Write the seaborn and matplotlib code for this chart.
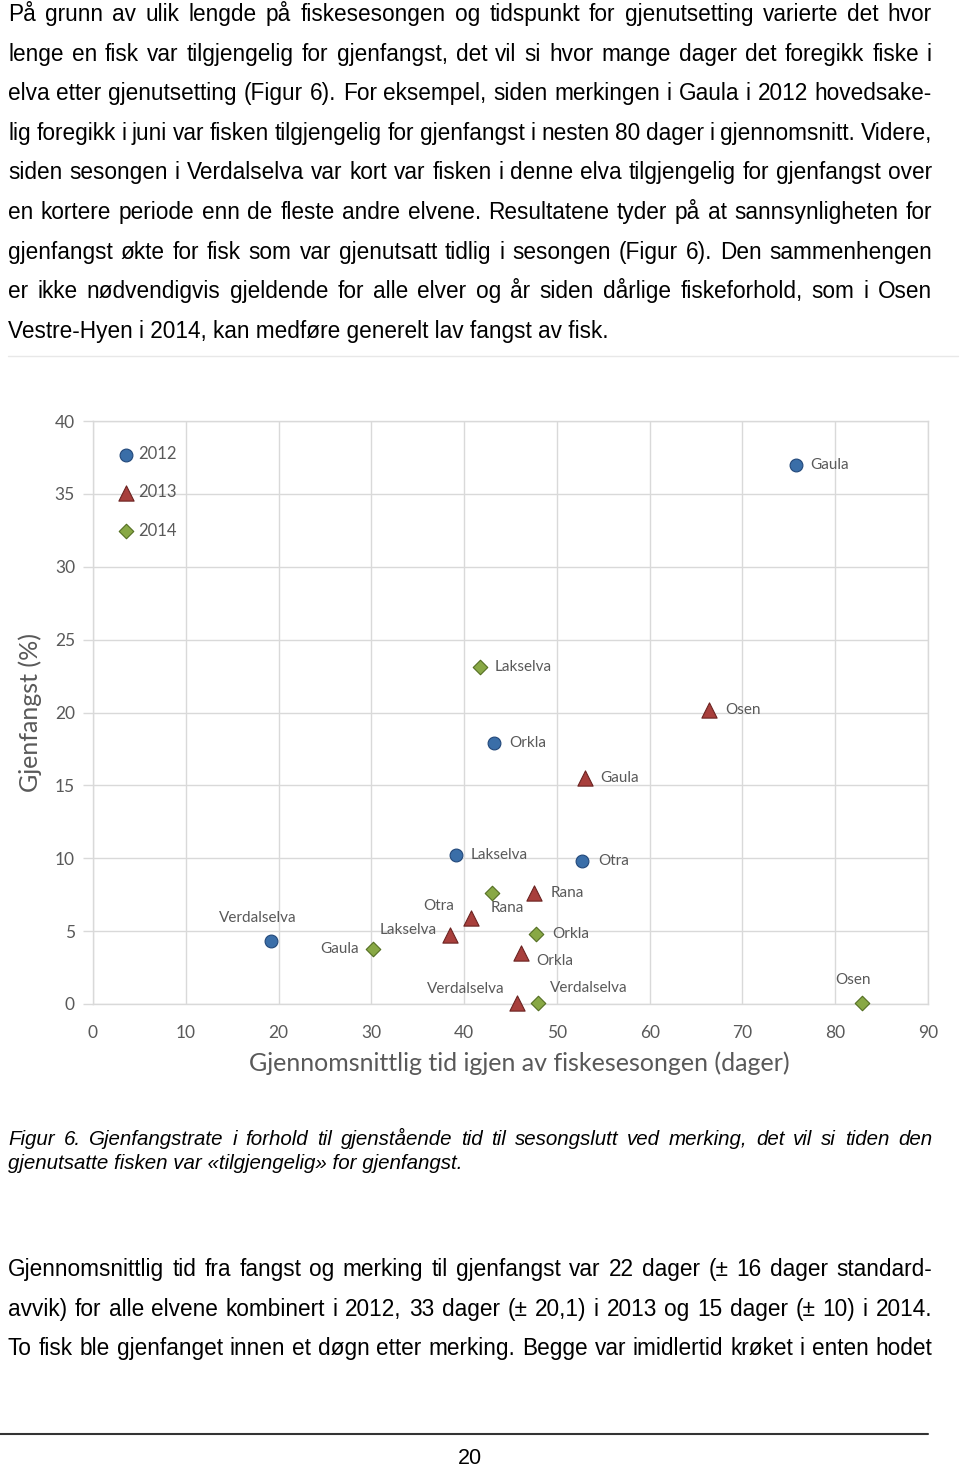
import matplotlib
matplotlib.use("Agg")
import matplotlib.pyplot as plt
from matplotlib.lines import Line2D
import pandas as pd
import seaborn as sns

# chart data
rivers_2012 = ["Verdalselva", "Lakselva", "Orkla", "Otra", "Gaula"]
days_2012 = [19.2, 39.1, 43.2, 52.7, 75.8]
rate_2012 = [4.3, 10.2, 17.9, 9.8, 37.0]

rivers_2013 = ["Lakselva", "Otra", "Rana", "Orkla", "Verdalselva", "Gaula", "Osen"]
days_2013 = [38.5, 40.7, 47.5, 46.1, 45.7, 53.0, 66.4]
rate_2013 = [4.7, 5.9, 7.6, 3.5, 0.1, 15.5, 20.2]

rivers_2014 = ["Gaula", "Lakselva", "Rana", "Orkla", "Verdalselva", "Osen"]
days_2014 = [30.2, 41.7, 43.0, 47.7, 48.0, 82.9]
rate_2014 = [3.8, 23.1, 7.6, 4.8, 0.1, 0.1]

years = ["2012", "2013", "2014"]
x_ticks = list(range(0, 91, 10))
y_ticks = list(range(0, 41, 5))

x_label = "Gjennomsnittlig tid igjen av fiskesesongen (dager)"
y_label = "Gjenfangst (%)"

top_text = [
    "På grunn av ulik lengde på fiskesesongen og tidspunkt for gjenutsetting varierte det hvor",
    "lenge en fisk var tilgjengelig for gjenfangst, det vil si hvor mange dager det foregikk fiske i",
    "elva etter gjenutsetting (Figur 6). For eksempel, siden merkingen i Gaula i 2012 hovedsake-",
    "lig foregikk i juni var fisken tilgjengelig for gjenfangst i nesten 80 dager i gjennomsnitt. Videre,",
    "siden sesongen i Verdalselva var kort var fisken i denne elva tilgjengelig for gjenfangst over",
    "en kortere periode enn de fleste andre elvene. Resultatene tyder på at sannsynligheten for",
    "gjenfangst økte for fisk som var gjenutsatt tidlig i sesongen (Figur 6). Den sammenhengen",
    "er ikke nødvendigvis gjeldende for alle elver og år siden dårlige fiskeforhold, som i Osen",
    "Vestre-Hyen i 2014, kan medføre generelt lav fangst av fisk.",
]
caption_text = [
    "Figur 6. Gjenfangstrate i forhold til gjenstående tid til sesongslutt ved merking, det vil si tiden den",
    "gjenutsatte fisken var «tilgjengelig» for gjenfangst.",
]
bottom_text = [
    "Gjennomsnittlig tid fra fangst og merking til gjenfangst var 22 dager (± 16 dager standard-",
    "avvik) for alle elvene kombinert i 2012, 33 dager (± 20,1) i 2013 og 15 dager (± 10) i 2014.",
    "To fisk ble gjenfanget innen et døgn etter merking. Begge var imidlertid krøket i enten hodet",
]
page_number = "20"

# marker styles and label placement (offsets in pixels, +dy = up)
styles = {
    "2012": dict(marker="o", color="#3a6ea8", edge="#22487a", s=85),
    "2013": dict(marker="^", color="#a83f3c", edge="#6b2321", s=120),
    "2014": dict(marker="D", color="#88a845", edge="#536e22", s=55),
}
label_pos = {
    ("2012", "Verdalselva"): (-13, 23, "center"),
    ("2012", "Lakselva"): (15, 0, "left"),
    ("2012", "Orkla"): (15, 0, "left"),
    ("2012", "Otra"): (16, 0, "left"),
    ("2012", "Gaula"): (14, 0, "left"),
    ("2013", "Lakselva"): (-13, 5, "right"),
    ("2013", "Otra"): (-16, 12, "right"),
    ("2013", "Rana"): (17, 0, "left"),
    ("2013", "Orkla"): (16, -8, "left"),
    ("2013", "Verdalselva"): (-12, 14, "right"),
    ("2013", "Gaula"): (16, 0, "left"),
    ("2013", "Osen"): (16, 0, "left"),
    ("2014", "Gaula"): (-14, 0, "right"),
    ("2014", "Lakselva"): (15, 0, "left"),
    ("2014", "Rana"): (-1, -15, "left"),
    ("2014", "Orkla"): (17, 0, "left"),
    ("2014", "Verdalselva"): (12, 15, "left"),
    ("2014", "Osen"): (-9, 23, "center"),
}

df = pd.concat([
    pd.DataFrame({"year": "2012", "river": rivers_2012, "days": days_2012, "rate": rate_2012}),
    pd.DataFrame({"year": "2013", "river": rivers_2013, "days": days_2013, "rate": rate_2013}),
    pd.DataFrame({"year": "2014", "river": rivers_2014, "days": days_2014, "rate": rate_2014}),
], ignore_index=True)

W, H = 960, 1470
sns.set_theme(style="white")
plt.rcParams["font.family"] = ["Liberation Sans", "DejaVu Sans"]

fig = plt.figure(figsize=(W / 100, H / 100), dpi=100)
renderer = fig.canvas.get_renderer()


def fx(px):
    return px / W


def fy(py):
    return 1 - py / H


# justified paragraph lines, word by word, all on a common baseline
def justified(lines, y0, step, size, style="normal", x0=8, x1=932, last_free=True):
    shift = 0.35 * size * 100 / 72
    for i, line in enumerate(lines):
        y = fy(y0 + i * step + shift)
        kw = dict(fontsize=size, style=style, va="baseline", color="black")
        if last_free and i == len(lines) - 1:
            fig.text(fx(x0), y, line, **kw)
            continue
        words = line.split(" ")
        arts = [fig.text(0, y, w, **kw) for w in words]
        widths = [a.get_window_extent(renderer).width for a in arts]
        gap = (x1 - x0 - sum(widths)) / (len(words) - 1)
        x = x0
        for a, w in zip(arts, widths):
            a.set_x(fx(x))
            x += w + gap


justified(top_text, 13, 39.6, 16.3)
fig.add_artist(Line2D([fx(8), fx(958)], [fy(356), fy(356)], color="#e8e8e8", lw=1))
justified(caption_text, 1138, 24, 14.8, style="italic")
justified(bottom_text, 1268, 39.6, 16.3, last_free=False)
fig.add_artist(Line2D([fx(0), fx(928)], [fy(1434), fy(1434)], color="#333333", lw=1.5))
fig.text(fx(470), fy(1459), page_number, ha="center", va="center", fontsize=15.5, color="black")

# the chart
ax = fig.add_axes([fx(93), fy(1004), (928 - 93) / W, (1004 - 421) / H])
for yr in years:
    st = styles[yr]
    sns.scatterplot(data=df[df["year"] == yr], x="days", y="rate", marker=st["marker"],
                    color=st["color"], edgecolor=st["edge"], linewidth=0.8, s=st["s"],
                    label=yr, ax=ax, zorder=3, clip_on=False)

for _, row in df.iterrows():
    dx, dy, ha = label_pos[(row["year"], row["river"])]
    ax.annotate(row["river"], (row["days"], row["rate"]), xytext=(dx * 0.72, dy * 0.72),
                textcoords="offset points", ha=ha, va="center", fontsize=11,
                color="#595959", family="Lato")

ax.set_xlim(0, 90)
ax.set_ylim(0, 40)
ax.set_xticks(x_ticks)
ax.set_yticks(y_ticks)
ax.grid(True, color="#d9d9d9", linewidth=1)
ax.set_axisbelow(True)
for sp in ax.spines.values():
    sp.set_color("#d9d9d9")
    sp.set_linewidth(1)
ax.tick_params(axis="y", left=True, length=7, width=1, color="#d9d9d9", pad=6,
               labelsize=12.5, labelcolor="#595959")
ax.tick_params(axis="x", bottom=False, length=0, pad=15, labelsize=12.5, labelcolor="#595959")
for t in ax.get_xticklabels() + ax.get_yticklabels():
    t.set_family("Lato")
ax.set_xlabel(x_label, fontsize=18, color="#595959", family="Lato")
ax.set_ylabel(y_label, fontsize=18, color="#595959", family="Lato", labelpad=9)
ax.xaxis.set_label_coords(0.51, -0.082)

ax.legend(frameon=False, loc="upper left", bbox_to_anchor=(0.02, 0.968), labelspacing=1.33,
          handletextpad=0.1, handlelength=1.2, prop={"family": "Lato", "size": 12},
          labelcolor="#595959", borderaxespad=0)

fig.savefig("out.png", dpi=100)
